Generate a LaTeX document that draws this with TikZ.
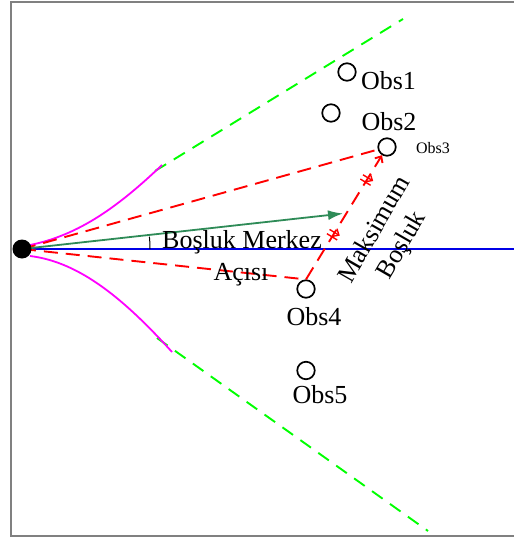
\documentclass[tikz,border=0pt]{standalone}
\usepackage{fontspec}
\setmainfont{Liberation Serif}
\usetikzlibrary{arrows.meta,decorations.markings}
\definecolor{seagrn}{RGB}{46,139,87}
\definecolor{limegrn}{RGB}{0,255,0}
\definecolor{pmag}{RGB}{255,0,255}
\definecolor{pred}{RGB}{255,0,0}
\definecolor{pblue}{RGB}{0,0,230}
\definecolor{framegray}{RGB}{128,128,128}
\begin{document}
\begin{tikzpicture}[x=1pt,y=-1pt,
  lbl/.style={font=\fontsize{26}{31}\selectfont, inner sep=0pt, anchor=base},
  smalllbl/.style={font=\fontsize{16}{19}\selectfont, inner sep=0pt, anchor=base},
  obs/.style={circle, draw, line width=1.7pt, minimum size=17.5pt, inner sep=0pt},
  reddash/.style={draw=pred, line width=1.9pt, dash pattern=on 14pt off 8pt},
  limedash/.style={draw=limegrn, line width=1.9pt, dash pattern=on 13pt off 9pt},
  magcurve/.style={draw=pmag, line width=1.8pt},
  framebar/.style={draw=framegray, line width=2pt},
  ticks/.style={postaction={decorate, decoration={markings,
     mark=at position #1 with {\draw[solid, pred, line width=1.4pt] (-2.5,-6) -- (-2.5,6) (2.5,-6) -- (2.5,6);}}}}
]
\useasboundingbox (0,0) rectangle (514,541);
% frame
\coordinate (ftr) at (514,1.5);
\coordinate (ftl) at (10.5,1.5);
\coordinate (fbl) at (10.5,535.5);
\coordinate (fbr) at (514,535.5);
\draw[framebar] (ftr) -- (ftl) -- (fbl) -- (fbr);

% coordinates
\coordinate (rc) at (22,249);
\coordinate (blueend) at (514,249);
\coordinate (gtip) at (343,213.5);
\coordinate (mu) at (162,165);
\coordinate (ml) at (172,352);
\coordinate (gus) at (155,171);
\coordinate (gue) at (403,19);
\coordinate (gls) at (157,338);
\coordinate (gle) at (428,531);

% obstacles
\node[obs] (o1) at (347,72) {};
\node[obs] (o2) at (331,113) {};
\node[obs] (o3) at (387,147) {};
\node[obs] (o4) at (306,289) {};
\node[obs] (o5) at (306,370.5) {};

% green dashed field-of-view lines
\draw[limedash] (gus) -- (gue);
\draw[limedash] (gls) -- (gle);

% magenta curves
\draw[magcurve] (30,245) .. controls (80,235) and (120,205) .. (mu);
\draw[magcurve] (30,256) .. controls (80,262) and (125,300) .. (ml);

% blue reference line
\draw[pblue, line width=2pt] (rc) -- (blueend);

% red dashed lines
\draw[reddash] (rc) -- (o3);
\draw[reddash] (rc) -- (o4.north);
\draw[reddash, -{Straight Barb[length=5pt,width=9pt]}, ticks=0.36, ticks=0.8] (o4.north) -- (o3);

% green gap-center arrow
\draw[seagrn, line width=1.8pt, -{Latex[length=15pt,width=10pt]}] (rc) -- (gtip);

% angle arc
\draw[black, line width=1pt] (150,249) arc[start angle=0, end angle=-5.5, radius=128];

% robot
\node[circle, fill=black, minimum size=19pt, inner sep=0pt] (robot) at (rc) {};

% labels
\node[lbl] (l1) at (388.5,89) {Obs1};
\node[lbl] (l2) at (389,130) {Obs2};
\node[smalllbl] (l3) at (433,153) {Obs3};
\node[lbl] (l4) at (314,325) {Obs4};
\node[lbl] (l5) at (320,403) {Obs5};
\node[lbl] (lbm) at (242,248) {Boşluk Merkez};
\node[lbl] (lac) at (241,280) {Açısı};
\node[font=\fontsize{26}{31}\selectfont, inner sep=0pt, align=center, rotate=60] (lmax) at (389,238) {Maksimum\\Boşluk};
\end{tikzpicture}
\end{document}
